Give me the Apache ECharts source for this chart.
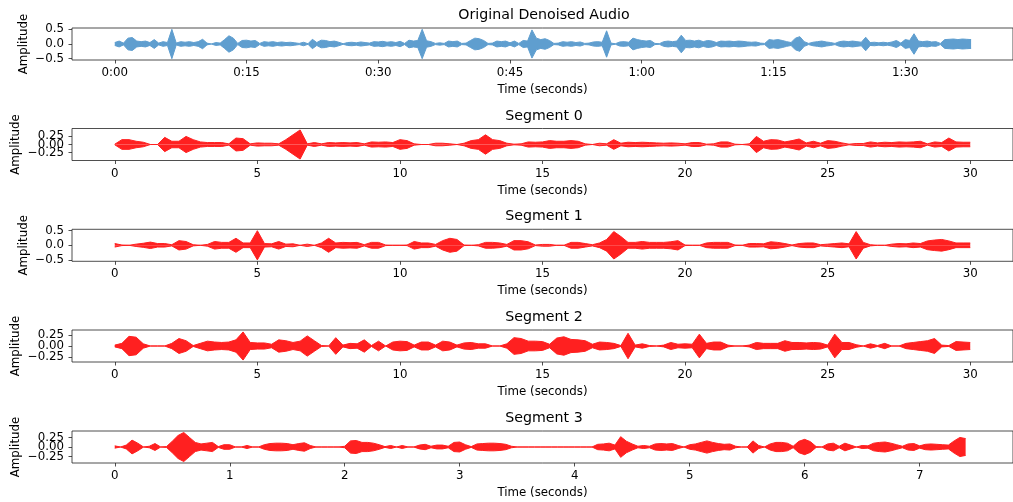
<!DOCTYPE html>
<html>
<head>
<meta charset="utf-8">
<script src="https://cdn.jsdelivr.net/npm/echarts@6/dist/echarts.min.js"></script>
<style>
  html, body { margin: 0; padding: 0; background: #fff; }
  #chart { width: 1013px; height: 502px; }
</style>
</head>
<body>
<div id="chart"></div>
<script>
// amplitude envelopes, one value per step
const originalStep = 0.5;
const originalEnv = [
  0.05, 0.1, 0.03, 0.2, 0.22, 0.1, 0.08, 0.1, 0.05, 0.15,
  0.03, 0.08, 0.05, 0.5, 0.03, 0.08, 0.06, 0.08, 0.05, 0.08,
  0.16, 0.03, 0, 0.05, 0.03, 0.15, 0.28, 0.2, 0.02, 0.12,
  0.13, 0.1, 0.12, 0.02, 0.08, 0.06, 0.08, 0.05, 0.07, 0.05,
  0.06, 0.04, 0.02, 0.06, 0.01, 0.16, 0.05, 0.13, 0.12, 0.08,
  0.1, 0.06, 0.01, 0.05, 0.06, 0.04, 0.07, 0.05, 0.03, 0.08,
  0.07, 0.09, 0.06, 0.08, 0.05, 0.09, 0.02, 0.13, 0.1, 0.12,
  0.5, 0.11, 0.08, 0.02, 0.04, 0.02, 0.1, 0.08, 0.1, 0.02,
  0.03, 0.12, 0.2, 0.18, 0.12, 0.02, 0.03, 0.1, 0.08, 0.1,
  0.04, 0.1, 0.02, 0.12, 0.1, 0.48, 0.2, 0.15, 0.18, 0.12,
  0.02, 0.03, 0.08, 0.06, 0.08, 0.05, 0.07, 0.02, 0.03, 0.07,
  0.08, 0.06, 0.45, 0.03, 0.01, 0.07, 0.08, 0.06, 0.2, 0.15,
  0.12, 0.1, 0.12, 0.02, 0.01, 0.08, 0.1, 0.08, 0.1, 0.3,
  0.12, 0.13, 0.1, 0.13, 0.08, 0.12, 0.1, 0.05, 0.1, 0.09,
  0.1, 0.08, 0.1, 0.09, 0.07, 0.06, 0.07, 0.03, 0.02, 0.15,
  0.13, 0.15, 0.12, 0.08, 0.05, 0.2, 0.25, 0.08, 0.02, 0.06,
  0.08, 0.1, 0.07, 0.05, 0.02, 0.08, 0.1, 0.08, 0.1, 0.08,
  0.06, 0.23, 0.05, 0.06, 0.04, 0.06, 0.04, 0.07, 0.12, 0.03,
  0.15, 0.12, 0.35, 0.1, 0.08, 0.1, 0.07, 0.08, 0.02, 0.15,
  0.16, 0.17, 0.15, 0.17, 0.16, 0.15
];

const segStep = 0.25;
const seg0Env = [
  0.01, 0.15, 0.15, 0.1, 0.07, 0, 0, 0.22, 0.1, 0.1,
  0.25, 0.15, 0.08, 0.06, 0.06, 0.06, 0.02, 0.2, 0.18, 0.02,
  0.05, 0.04, 0.04, 0.02, 0.15, 0.3, 0.45, 0.02, 0.06, 0.02,
  0.06, 0.05, 0.06, 0.05, 0.06, 0.02, 0.08, 0.07, 0.08, 0.06,
  0.15, 0.12, 0.02, 0, 0, 0.04, 0.04, 0.02, 0, 0.04,
  0.12, 0.15, 0.3, 0.15, 0.12, 0.04, 0.01, 0.02, 0.08, 0.07,
  0.08, 0.12, 0.1, 0.1, 0.12, 0.1, 0.02, 0, 0.04, 0.02,
  0.15, 0.04, 0.07, 0.06, 0.07, 0.06, 0.05, 0.04, 0.05, 0.04,
  0.02, 0.06, 0.06, 0.01, 0.02, 0.08, 0.08, 0.01, 0, 0.02,
  0.25, 0.1, 0.15, 0.14, 0.08, 0.12, 0.17, 0.05, 0.1, 0.04,
  0.12, 0.1, 0.05, 0.01, 0.03, 0.03, 0.08, 0.05, 0.07, 0.06,
  0.08, 0.07, 0.08, 0.1, 0.02, 0.08, 0.06, 0.2, 0.08, 0.07,
  0.07
];
const seg1Env = [
  0.06, 0.01, 0, 0.04, 0.07, 0.11, 0.06, 0.06, 0.02, 0.16,
  0.13, 0.02, 0, 0.03, 0.13, 0.1, 0.1, 0.24, 0.08, 0.08,
  0.5, 0.06, 0.05, 0.13, 0.04, 0.05, 0, 0.04, 0, 0.08,
  0.24, 0.08, 0.1, 0.09, 0.1, 0.02, 0.1, 0.1, 0.01, 0,
  0, 0.01, 0.13, 0.08, 0.08, 0.03, 0.16, 0.24, 0.2, 0.01,
  0, 0.02, 0.1, 0.1, 0.08, 0.03, 0.16, 0.16, 0.12, 0.01,
  0.03, 0.03, 0, 0, 0.1, 0.1, 0.06, 0.02, 0.08, 0.2,
  0.47, 0.3, 0.1, 0.1, 0.13, 0.1, 0.1, 0.1, 0.12, 0.16,
  0.01, 0, 0, 0.08, 0.1, 0.1, 0.1, 0.01, 0, 0.06,
  0.06, 0.05, 0.12, 0.1, 0.06, 0.01, 0.06, 0.08, 0.08, 0.02,
  0.04, 0.06, 0.08, 0.05, 0.47, 0.1, 0.02, 0, 0, 0.04,
  0.06, 0.05, 0.08, 0.06, 0.15, 0.18, 0.2, 0.15, 0.08, 0.08,
  0.08
];
const seg2Env = [
  0.02, 0.06, 0.22, 0.2, 0.05, 0, 0, 0, 0.06, 0.17,
  0.12, 0.01, 0.06, 0.11, 0.09, 0.08, 0.09, 0.14, 0.32, 0.08,
  0.07, 0.07, 0.04, 0.14, 0.12, 0.08, 0.11, 0.23, 0.12, 0.01,
  0, 0.19, 0.02, 0.06, 0.05, 0.14, 0.01, 0.11, 0, 0.09,
  0.11, 0.1, 0.02, 0.09, 0.09, 0.02, 0.11, 0.09, 0.02, 0.07,
  0.08, 0.05, 0.05, 0, 0, 0.05, 0.19, 0.17, 0.11, 0.11,
  0.1, 0.04, 0.18, 0.21, 0.15, 0.14, 0.12, 0.04, 0.09, 0.08,
  0.06, 0.01, 0.29, 0.02, 0.05, 0.01, 0, 0.02, 0.08, 0.04,
  0.05, 0.04, 0.27, 0.06, 0.09, 0.09, 0.02, 0, 0, 0.02,
  0.08, 0.06, 0.06, 0.06, 0.12, 0.08, 0.08, 0.07, 0.08, 0.07,
  0.02, 0.27, 0.08, 0.08, 0.03, 0, 0.05, 0.01, 0.06, 0,
  0, 0.06, 0.08, 0.1, 0.12, 0.17, 0.02, 0.01, 0.1, 0.09,
  0.08
];

const seg3Step = 0.05;
const seg3Env = [
  0.03, 0, 0.05, 0.18, 0.1, 0, 0.02, 0.09, 0, 0.01,
  0.15, 0.3, 0.38, 0.25, 0.12, 0.08, 0.1, 0.12, 0.01, 0.06,
  0.06, 0, 0, 0.04, 0, 0, 0.06, 0.09, 0.1, 0.1,
  0.09, 0.06, 0.09, 0.11, 0.04, 0, 0, 0, 0, 0,
  0.02, 0.16, 0.17, 0.12, 0.12, 0.1, 0.06, 0.01, 0.04, 0,
  0.04, 0, 0, 0.05, 0.07, 0.02, 0.05, 0.05, 0.02, 0.12,
  0.13, 0.06, 0.01, 0.08, 0.09, 0.1, 0.1, 0.09, 0.07, 0.02,
  0, 0, 0, 0, 0, 0, 0, 0, 0, 0,
  0, 0, 0, 0, 0.07, 0.08, 0.1, 0.05, 0.27, 0.15,
  0.08, 0.02, 0.04, 0.02, 0.08, 0.09, 0.08, 0.09, 0.04, 0,
  0.06, 0.08, 0.12, 0.16, 0.12, 0.09, 0.07, 0.08, 0.02, 0,
  0, 0.16, 0.04, 0, 0.08, 0.12, 0.12, 0.1, 0.02, 0.15,
  0.2, 0.14, 0.01, 0, 0.08, 0.1, 0.02, 0.1, 0.05, 0,
  0.04, 0.03, 0.1, 0.12, 0.13, 0.1, 0.06, 0.02, 0.08, 0.09,
  0.03, 0.07, 0.08, 0.07, 0.06, 0.05, 0.16, 0.25, 0.22
];

const panelTitles = ["Original Denoised Audio", "Segment 0", "Segment 1", "Segment 2", "Segment 3"];
const clockTicks = [0, 15, 30, 45, 60, 75, 90];
const secondTicks = [0, 5, 10, 15, 20, 25, 30];
const shortTicks = [0, 1, 2, 3, 4, 5, 6, 7];
const halfTicks = [-0.5, 0.5];
const quarterTicks = [-0.25, 0.25];
const zeroTick = [0];

const FONT = "DejaVu Sans";
const FS = 11.8;
const BLUE = "#5f9ecf";
const RED = "#ff2020";

const panels = [
  { env: originalEnv, step: originalStep, color: BLUE, x: [-4.87, 102.27], y: 0.545, xt: clockTicks, yt: halfTicks, yd: 1, clock: true, gap: 42 },
  { env: seg0Env, step: segStep, color: RED, x: [-1.5, 31.5], y: 0.494, xt: secondTicks, yt: quarterTicks, yd: 2, gap: 50 },
  { env: seg1Env, step: segStep, color: RED, x: [-1.5, 31.5], y: 0.548, xt: secondTicks, yt: halfTicks, yd: 1, gap: 42 },
  { env: seg2Env, step: segStep, color: RED, x: [-1.5, 31.5], y: 0.364, xt: secondTicks, yt: quarterTicks, yd: 2, gap: 50 },
  { env: seg3Env, step: seg3Step, color: RED, x: [-0.372, 7.812], y: 0.418, xt: shortTicks, yt: quarterTicks, yd: 2, gap: 50 }
];
const tops = [28, 128.5, 229.3, 330, 431];
const titleY = [15, 116, 216, 317, 418];

const fmtClock = (v) => Math.floor(v / 60) + ":" + String(v % 60).padStart(2, "0");
const fmtNum = (d) => (v) => (v < 0 ? "\u2212" : "") + Math.abs(v).toFixed(d);
const tickStyle = { color: "#222", width: 0.8 };
const textStyle = { fontFamily: FONT, fontSize: FS, color: "#000" };

const grid = [], xAxis = [], yAxis = [], series = [], graphic = [];
panels.forEach((p, i) => {
  grid.push({ left: 72, width: 944, top: tops[i], height: 32, show: true, borderColor: "#222", borderWidth: 0.8 });
  xAxis.push({
    type: "value", gridIndex: i, min: p.x[0], max: p.x[1],
    name: "Time (seconds)", nameLocation: "middle", nameGap: 24, nameMoveOverlap: false,
    nameTextStyle: textStyle,
    axisLine: { show: false, onZero: false },
    axisTick: { show: true, length: 3.5, customValues: p.xt, lineStyle: tickStyle },
    axisLabel: Object.assign({ customValues: p.xt, margin: 7, hideOverlap: false,
      formatter: p.clock ? fmtClock : (v) => String(v) }, textStyle),
    splitLine: { show: false }
  });
  // the zero label and the outer labels sit on two axes so none of them gets dropped
  [zeroTick, p.yt].forEach((ticks, j) => {
    yAxis.push({
      type: "value", gridIndex: i, min: -p.y, max: p.y, position: "left",
      name: j === 0 ? "Amplitude" : "", nameLocation: "middle", nameGap: p.gap, nameMoveOverlap: false,
      nameTextStyle: textStyle,
      axisLine: { show: false, onZero: false },
      axisTick: { show: true, length: 3.5, customValues: ticks, lineStyle: tickStyle },
      axisLabel: Object.assign({ customValues: ticks, margin: 8, hideOverlap: false,
        formatter: fmtNum(p.yd) }, textStyle),
      splitLine: { show: false }
    });
  });
  const up = p.env.map((a, k) => [k * p.step, a]);
  const down = p.env.map((a, k) => [k * p.step, -a]);
  [up, down].forEach((d) => {
    series.push({
      type: "line", xAxisIndex: i, yAxisIndex: 2 * i, data: d, symbol: "none", silent: true,
      animation: false,
      lineStyle: { color: p.color, width: 1 },
      areaStyle: { color: p.color, opacity: 1, origin: 0 }
    });
  });
  graphic.push({
    type: "text", x: 544, y: titleY[i],
    style: { text: panelTitles[i], fill: "#000", font: "14.2px '" + FONT + "'", align: "center", verticalAlign: "middle" }
  });
});

const chart = echarts.init(document.getElementById("chart"));
chart.setOption({ animation: false, grid, xAxis, yAxis, series, graphic });
</script>
</body>
</html>
